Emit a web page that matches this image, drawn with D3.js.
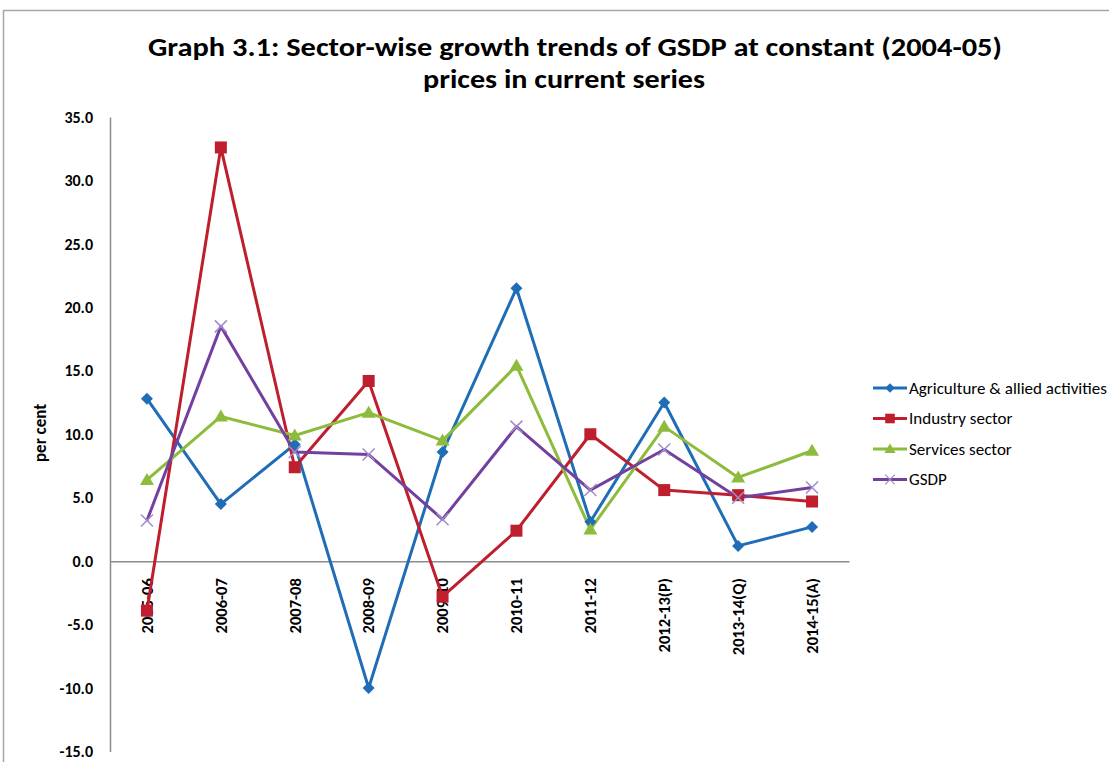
<!DOCTYPE html>
<html>
<head>
<meta charset="utf-8">
<script src="https://cdn.jsdelivr.net/npm/d3@7"></script>
<style>
  html, body { margin: 0; padding: 0; background: #fff; }
  svg { display: block; }
</style>
</head>
<body>
<svg id="chart" width="1109" height="762"></svg>
<script>
// Growth rates (per cent) by year
const years = ["2005-06", "2006-07", "2007-08", "2008-09", "2009-10", "2010-11", "2011-12", "2012-13(P)", "2013-14(Q)", "2014-15(A)"];
const agriculture = [12.8, 4.5, 9.2, -10.0, 8.6, 21.5, 3.1, 12.5, 1.2, 2.7];
const industry = [-3.9, 32.6, 7.4, 14.2, -2.8, 2.4, 10.0, 5.6, 5.2, 4.7];
const services = [6.4, 11.4, 9.9, 11.7, 9.5, 15.4, 2.5, 10.6, 6.6, 8.7];
const gsdp = [3.2, 18.5, 8.6, 8.4, 3.3, 10.6, 5.6, 8.8, 5.0, 5.8];
const yTicks = [35, 30, 25, 20, 15, 10, 5, 0, -5, -10, -15];

const series = [
  { name: "Agriculture & allied activities", values: agriculture, color: "#1f6db6", marker: "diamond" },
  { name: "Industry sector", values: industry, color: "#be1e2d", marker: "square" },
  { name: "Services sector", values: services, color: "#8dbb3c", marker: "triangle" },
  { name: "GSDP", values: gsdp, color: "#7440a0", marker: "cross" }
];

const svg = d3.select("#chart");
const font = "Carlito, 'Liberation Sans Narrow', Lato, 'Open Sans', sans-serif";

// chart frame
svg.append("rect").attr("x", 3.5).attr("y", 10.5).attr("width", 1120).attr("height", 760)
  .attr("fill", "none").attr("stroke", "#a6a6a6").attr("stroke-width", 1.5);

// title, two lines
svg.append("text").attr("x", 575).attr("y", 56).attr("text-anchor", "middle")
  .attr("font-family", font).attr("font-weight", "bold").attr("font-size", 26).attr("fill", "#000")
  .attr("textLength", 854).attr("lengthAdjust", "spacingAndGlyphs")
  .text("Graph 3.1: Sector-wise growth trends of GSDP at constant (2004-05)");
svg.append("text").attr("x", 564).attr("y", 88).attr("text-anchor", "middle")
  .attr("font-family", font).attr("font-weight", "bold").attr("font-size", 26).attr("fill", "#000")
  .attr("textLength", 282).attr("lengthAdjust", "spacingAndGlyphs")
  .text("prices in current series");

const x = d3.scaleBand().domain(years).range([110, 849]);
const y = d3.scaleLinear().domain([-15, 35]).range([751.5, 117]);

// y axis
const yAxis = svg.append("g").attr("transform", "translate(110,0)")
  .call(d3.axisLeft(y).tickValues(yTicks).tickFormat(d => d.toFixed(1)).tickSize(0).tickPadding(17));
yAxis.select(".domain").attr("stroke", "#8c8c8c").attr("stroke-width", 1.5);
yAxis.selectAll("text").attr("font-family", font)
  .attr("font-weight", "bold").attr("font-size", 16).attr("fill", "#000");

// x axis at zero
const xAxis = svg.append("g").attr("transform", `translate(0,${y(0)})`)
  .call(d3.axisBottom(x).tickSize(0).tickPadding(0));
xAxis.select(".domain").attr("stroke", "#8c8c8c").attr("stroke-width", 1.5);
xAxis.selectAll("text")
  .attr("font-family", font).attr("font-weight", "bold").attr("font-size", 16.5).attr("fill", "#000")
  .attr("transform", "rotate(-90)")
  .attr("text-anchor", "end").attr("x", -17).attr("y", 0).attr("dy", "0.35em");

// y axis title
svg.append("text").attr("transform", "translate(40,433) rotate(-90)")
  .attr("text-anchor", "middle").attr("dy", "0.35em").attr("font-family", font).attr("font-weight", "bold")
  .attr("font-size", 17).attr("fill", "#000").text("per cent");

const cx = d => x(d) + x.bandwidth() / 2;

function drawMarker(g, kind, color) {
  if (kind === "diamond") {
    g.append("path").attr("d", "M0,-6L6,0L0,6L-6,0Z").attr("fill", color);
  } else if (kind === "square") {
    g.append("rect").attr("x", -6).attr("y", -6).attr("width", 12).attr("height", 12).attr("fill", color);
  } else if (kind === "triangle") {
    g.append("path").attr("d", "M0,-7L7,5L-7,5Z").attr("fill", color);
  } else {
    g.append("path").attr("d", "M-6,-6L6,6M-6,6L6,-6").attr("stroke", "#a08cc8").attr("stroke-width", 1.5);
  }
}

const line = d3.line().x((d, i) => cx(years[i])).y(d => y(d));

series.forEach(s => {
  svg.append("path").datum(s.values).attr("d", line)
    .attr("fill", "none").attr("stroke", s.color).attr("stroke-width", 3).attr("stroke-linejoin", "round");
});
series.forEach(s => {
  s.values.forEach((v, i) => {
    const g = svg.append("g").attr("transform", `translate(${cx(years[i])},${y(v)})`);
    drawMarker(g, s.marker, s.color);
  });
});

// legend
const legend = svg.append("g");
series.forEach((s, i) => {
  const ly = 388 + i * 30.5;
  const g = legend.append("g").attr("transform", `translate(0,${ly})`);
  g.append("line").attr("x1", 873).attr("x2", 907).attr("y1", 0).attr("y2", 0)
    .attr("stroke", s.color).attr("stroke-width", 3);
  const m = g.append("g").attr("transform", "translate(890,0) scale(0.8)");
  drawMarker(m, s.marker, s.color);
  g.append("text").attr("x", 909).attr("y", 0).attr("dy", "0.35em")
    .attr("font-family", font).attr("font-size", 17).attr("fill", "#000").text(s.name);
});
</script>
</body>
</html>
